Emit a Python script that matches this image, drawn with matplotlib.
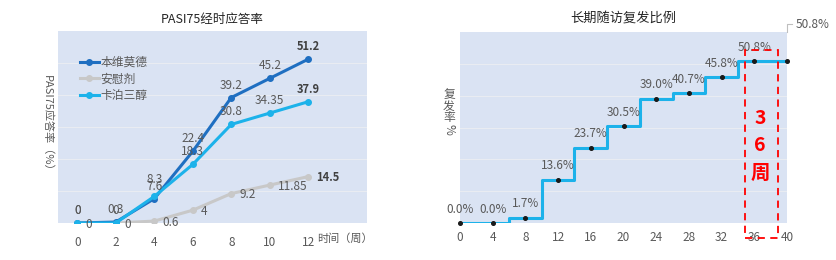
import matplotlib.pyplot as plt
from matplotlib.patches import Rectangle

plt.rcParams['font.family'] = ['Noto Sans CJK SC', 'DejaVu Sans']

# left chart: PASI75 response over time
weeks = [0, 2, 4, 6, 8, 10, 12]
benvitimod = [0, 0.3, 7.6, 22.4, 39.2, 45.2, 51.2]
placebo = [0, 0, 0.6, 4, 9.2, 11.85, 14.5]
calcipotriol = [0, 0, 8.3, 18.3, 30.8, 34.35, 37.9]
benvitimod_lbl = ['0', '0.3', '7.6', '22.4', '39.2', '45.2', '51.2']
placebo_lbl = ['0', '0', '0.6', '4', '9.2', '11.85', '14.5']
calcipotriol_lbl = ['0', '0', '8.3', '18.3', '30.8', '34.35', '37.9']

# right chart: long-term relapse
fu_weeks = [0, 4, 8, 12, 16, 20, 24, 28, 32, 36, 40]
relapse = [0.0, 0.0, 1.7, 13.6, 23.7, 30.5, 39.0, 40.7, 45.8, 50.8, 50.8]

BG = '#dae3f3'
GRID = '#e9ecf2'
TXT = '#595959'
DARK = '#1f6fc1'
LIGHT = '#1cb2ea'
GREY = '#c8c8c8'

fig = plt.figure(figsize=(8.36, 2.6), dpi=100)

ax1 = fig.add_axes([58 / 836, 37 / 260, 309 / 836, 192 / 260])
ax1.set_facecolor(BG)
ax1.plot(weeks, benvitimod, color=DARK, lw=2.2, marker='o', ms=4, label='本维莫德', zorder=3)
ax1.plot(weeks, placebo, color=GREY, lw=2.2, marker='o', ms=4, label='安慰剂', zorder=2)
ax1.plot(weeks, calcipotriol, color=LIGHT, lw=2.2, marker='o', ms=4, label='卡泊三醇', zorder=3)

for i, (x, y) in enumerate(zip(weeks, benvitimod)):
    last = i == len(weeks) - 1
    ax1.annotate(benvitimod_lbl[i], (x, y), xytext=(0, 9), textcoords='offset points',
                 ha='center', va='center', fontsize=8.5 if not last else 8,
                 color='#404040' if last else TXT, fontweight='bold' if last else 'normal')
for i, (x, y) in enumerate(zip(weeks, calcipotriol)):
    last = i == len(weeks) - 1
    dy = 12 if x == 4 else 9
    ax1.annotate(calcipotriol_lbl[i], (x, y), xytext=(0, dy), textcoords='offset points',
                 ha='center', va='center', fontsize=8.5 if not last else 8,
                 color='#404040' if last else TXT, fontweight='bold' if last else 'normal')
for i, (x, y) in enumerate(zip(weeks, placebo)):
    last = i == len(weeks) - 1
    ax1.annotate(placebo_lbl[i], (x, y), xytext=(6, -1), textcoords='offset points',
                 ha='left', va='center', fontsize=8.5 if not last else 8,
                 color='#404040' if last else TXT, fontweight='bold' if last else 'normal')

ax1.set_xlim(-1, 15.05)
ax1.set_ylim(0, 60)
ax1.set_xticks(weeks)
ax1.set_yticks([10, 20, 30, 40, 50])
ax1.set_yticklabels([])
ax1.grid(axis='y', color=GRID, lw=0.8)
ax1.set_axisbelow(True)
ax1.tick_params(length=0, labelsize=8.5, labelcolor=TXT, pad=9)
for s in ax1.spines.values():
    s.set_visible(False)
ax1.legend(loc='upper left', bbox_to_anchor=(0.07, 0.87), frameon=False, fontsize=8.5,
           labelcolor=TXT, handlelength=1.6, handletextpad=0.15, labelspacing=0.3,
           borderpad=0, borderaxespad=0)
ax1.set_title('PASI75经时应答率', fontsize=9, color='#262626', pad=6)
fig.text(47 / 836, 1 - 126 / 260, 'PASI75应答率（%）', rotation=-90, ha='center', va='center',
         fontsize=8, color=TXT)
fig.text(345 / 836, 1 - 239 / 260, '时间（周）', ha='center', va='center', fontsize=8, color=TXT)

# right chart
ax2 = fig.add_axes([460 / 836, 37 / 260, 327 / 836, 191 / 260])
ax2.set_facecolor(BG)
ax2.plot(fu_weeks, relapse, color=LIGHT, lw=2.2, drawstyle='steps-mid', zorder=3)
ax2.plot(fu_weeks, relapse, ls='none', marker='o', ms=2.6, color='#1a1a1a', zorder=4, clip_on=False)
for x, y in zip(fu_weeks[:-1], relapse[:-1]):
    ax2.annotate(f'{y:.1f}%', (x, y), xytext=(0, 10), textcoords='offset points',
                 ha='center', va='center', fontsize=8.5, color=TXT)
ax2.annotate(f'{relapse[-1]:.1f}%', (fu_weeks[-1], 62.5), xytext=(41.0, 62.5), textcoords='data',
             ha='left', va='center', fontsize=8.5, color=TXT, annotation_clip=False)
ax2.plot([40, 40, 40.6], [60, 62.5, 62.5], color='#bfbfbf', lw=0.8, clip_on=False)

ax2.set_xlim(0, 40)
ax2.set_ylim(0, 60)
ax2.set_xticks(fu_weeks)
ax2.set_yticks([10, 20, 30, 40, 50])
ax2.set_yticklabels([])
ax2.grid(axis='y', color=GRID, lw=0.8)
ax2.set_axisbelow(True)
ax2.tick_params(length=0, labelsize=8.5, labelcolor=TXT, pad=6)
for s in ax2.spines.values():
    s.set_visible(False)
ax2.set_title('长期随访复发比例', fontsize=9.5, color='#262626', pad=7)

ax2.add_patch(Rectangle((34.9, -4.7), 4.0, 59.2, fill=False, ec='#ff0000', lw=1.3,
                        ls=(0, (4, 3)), clip_on=False, zorder=5))
for txt, yy in zip(['3', '6', '周'], [32.8, 24.2, 15.6]):
    ax2.text(36.7, yy, txt, ha='center', va='center', fontsize=14, fontweight='bold',
             color='#ff0000', zorder=6)

fig.text(449 / 836, 1 - 106 / 260, '复\n发\n率', ha='center', va='center', fontsize=8.5,
         color=TXT, linespacing=0.85)
fig.text(449 / 836, 1 - 129 / 260, '%', rotation=-90, ha='center', va='center', fontsize=8.5,
         color=TXT)

fig.savefig('out.png', dpi=100)
